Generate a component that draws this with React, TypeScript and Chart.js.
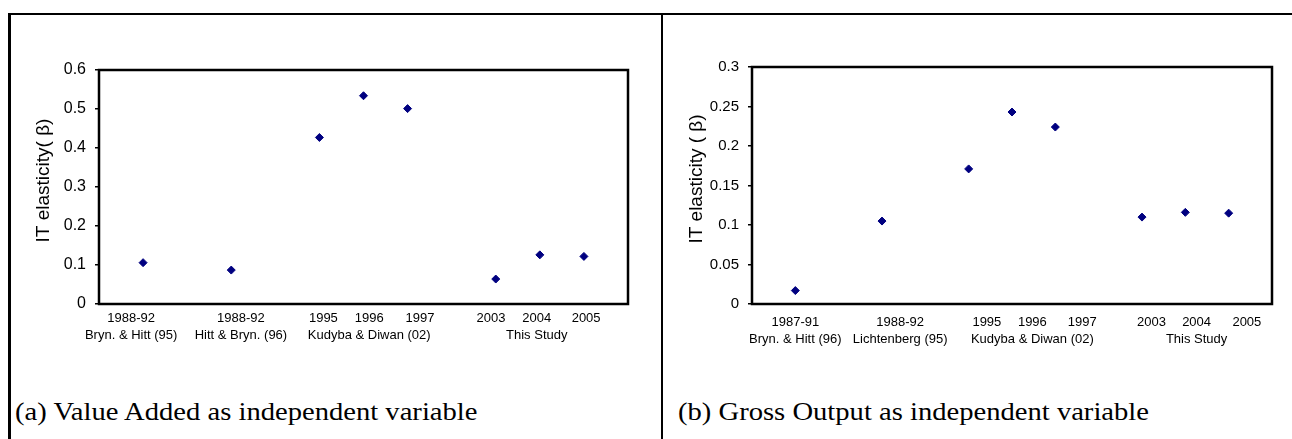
import React, { useEffect, useRef } from "react";
import { Chart, registerables } from "chart.js";

Chart.register(...registerables);

// ---- Data ----
const xPositions = [1, 3, 5, 6, 7, 9, 10, 11];

const valueAddedBeta = [0.106, 0.087, 0.427, 0.534, 0.501, 0.064, 0.126, 0.122];
const grossOutputBeta = [0.017, 0.105, 0.171, 0.243, 0.224, 0.11, 0.116, 0.115];

const yearLabelsA = ["1988-92", "1988-92", "1995", "1996", "1997", "2003", "2004", "2005"];
const groupLabelsA = ["Bryn. & Hitt (95)", "Hitt & Bryn. (96)", "", "Kudyba & Diwan (02)", "", "", "This Study", ""];
const tickPosA = [0.73, 3.22, 5.09, 6.13, 7.28, 8.89, 9.93, 11.05];

const yearLabelsB = ["1987-91", "1988-92", "1995", "1996", "1997", "2003", "2004", "2005"];
const groupLabelsB = ["Bryn. & Hitt (96)", "Lichtenberg (95)", "", "Kudyba & Diwan (02)", "", "", "This Study", ""];
const tickPosB = [1.0, 3.42, 5.42, 6.47, 7.62, 9.22, 10.26, 11.42];

const yMaxA = 0.6;
const yStepA = 0.1;
const yMaxB = 0.3;
const yStepB = 0.05;

const yTitleA = "IT elasticity( \u03b2)";
const yTitleB = "IT elasticity ( \u03b2)";
const captionA = "(a) Value Added as independent variable";
const captionB = "(b) Gross Output as independent variable";

const SANS = "'Liberation Sans', Arial, sans-serif";
const SERIF = "'Liberation Serif', 'Times New Roman', serif";

const framePlugin = {
  id: "plotFrame",
  afterDatasetsDraw(chart: any) {
    const { ctx, chartArea } = chart;
    ctx.save();
    ctx.strokeStyle = "#000";
    ctx.lineWidth = 2.5;
    ctx.strokeRect(chartArea.left, chartArea.top, chartArea.right - chartArea.left, chartArea.bottom - chartArea.top);
    ctx.restore();
  },
};

const yTitlePlugin = {
  id: "yTitleText",
  afterDraw(chart: any, _args: any, opts: any) {
    const { ctx, chartArea } = chart;
    ctx.save();
    ctx.translate(chartArea.left - opts.dx, (chartArea.top + chartArea.bottom) / 2 - opts.dy);
    ctx.rotate(-Math.PI / 2);
    ctx.fillStyle = "#000";
    ctx.font = `19px ${SANS}`;
    ctx.textAlign = "center";
    ctx.textBaseline = "middle";
    ctx.fillText(opts.text, 0, 0);
    ctx.restore();
  },
};

type PanelProps = {
  values: number[];
  years: string[];
  groups: string[];
  tickPos: number[];
  yMax: number;
  yStep: number;
  yTitle: string;
  width: number;
  height: number;
  padTop: number;
  padRight: number;
  xLabelPad: number;
  yTickSize: number;
};

function Panel(p: PanelProps) {
  const ref = useRef<HTMLCanvasElement | null>(null);
  useEffect(() => {
    if (!ref.current) return;
    const chart = new Chart(ref.current, {
      type: "scatter",
      data: {
        datasets: [
          {
            data: xPositions.map((x, i) => ({ x, y: p.values[i] })),
            pointStyle: "rectRot",
            pointRadius: 4,
            pointHoverRadius: 4,
            backgroundColor: "#000080",
            borderColor: "#000080",
            borderWidth: 1,
            showLine: false,
          },
        ],
      },
      options: {
        animation: false,
        responsive: false,
        maintainAspectRatio: false,
        events: [],
        layout: { padding: { top: p.padTop, right: p.padRight, left: 0, bottom: 0 } },
        plugins: {
          legend: { display: false },
          tooltip: { enabled: false },
          yTitleText: { text: p.yTitle, dx: 55, dy: 6.5 },
        } as any,
        scales: {
          x: {
            type: "linear",
            min: 0,
            max: 12,
            grid: { display: false, drawTicks: false },
            border: { display: false },
            afterBuildTicks: (scale: any) => {
              scale.ticks = p.tickPos.map((v) => ({ value: v }));
            },
            afterFit: (scale: any) => {
              scale.height = p.height - 287;
              scale.paddingLeft = 0;
              scale.paddingRight = 0;
            },
            ticks: {
              autoSkip: false,
              maxRotation: 0,
              minRotation: 0,
              padding: p.xLabelPad,
              color: "#000",
              font: { family: SANS, size: 13, lineHeight: 1.3 },
              callback: (_v: any, i: number) => [p.years[i], p.groups[i]],
            },
          },
          y: {
            type: "linear",
            min: 0,
            max: p.yMax,
            grid: { drawOnChartArea: false, drawTicks: true, tickLength: 4, color: "#000", lineWidth: 1.5 },
            border: { display: false },
            afterFit: (scale: any) => {
              scale.width = 87;
            },
            ticks: {
              stepSize: p.yStep,
              padding: 9,
              color: "#000",
              font: { family: SANS, size: p.yTickSize },
              callback: (v: any) => String(Number(Number(v).toFixed(2))),
            },
          },
        },
      },
      plugins: [framePlugin, yTitlePlugin],
    });
    return () => chart.destroy();
  }, []);
  return <canvas ref={ref} width={p.width} height={p.height} style={{ width: p.width, height: p.height, display: "block" }} />;
}

export default function App() {
  const captionStyle: React.CSSProperties = {
    position: "absolute",
    top: 398,
    fontFamily: SERIF,
    fontSize: 26,
    lineHeight: "28px",
    color: "#000",
    whiteSpace: "nowrap",
    transform: "scaleX(1.1)",
    transformOrigin: "left center",
  };
  return (
    <div style={{ position: "absolute", left: 0, top: 0, width: 1292, height: 439, overflow: "hidden", background: "#fff" }}>
      <div style={{ position: "absolute", left: 8, top: 13, width: 1290, height: 2, background: "#000" }} />
      <div style={{ position: "absolute", left: 8, top: 13, width: 3, height: 430, background: "#000" }} />
      <div style={{ position: "absolute", left: 661, top: 13, width: 2, height: 430, background: "#000" }} />
      <div style={{ position: "absolute", left: 12, top: 17 }}>
        <Panel
          values={valueAddedBeta}
          years={yearLabelsA}
          groups={groupLabelsA}
          tickPos={tickPosA}
          yMax={yMaxA}
          yStep={yStepA}
          yTitle={yTitleA}
          width={640}
          height={340}
          padTop={53}
          padRight={24}
          xLabelPad={6}
          yTickSize={16}
        />
      </div>
      <div style={{ position: "absolute", left: 665, top: 17 }}>
        <Panel
          values={grossOutputBeta}
          years={yearLabelsB}
          groups={groupLabelsB}
          tickPos={tickPosB}
          yMax={yMaxB}
          yStep={yStepB}
          yTitle={yTitleB}
          width={627}
          height={340}
          padTop={50}
          padRight={20}
          xLabelPad={10}
          yTickSize={15}
        />
      </div>
      <div style={{ ...captionStyle, left: 15 }}>{captionA}</div>
      <div style={{ ...captionStyle, left: 678 }}>{captionB}</div>
    </div>
  );
}
